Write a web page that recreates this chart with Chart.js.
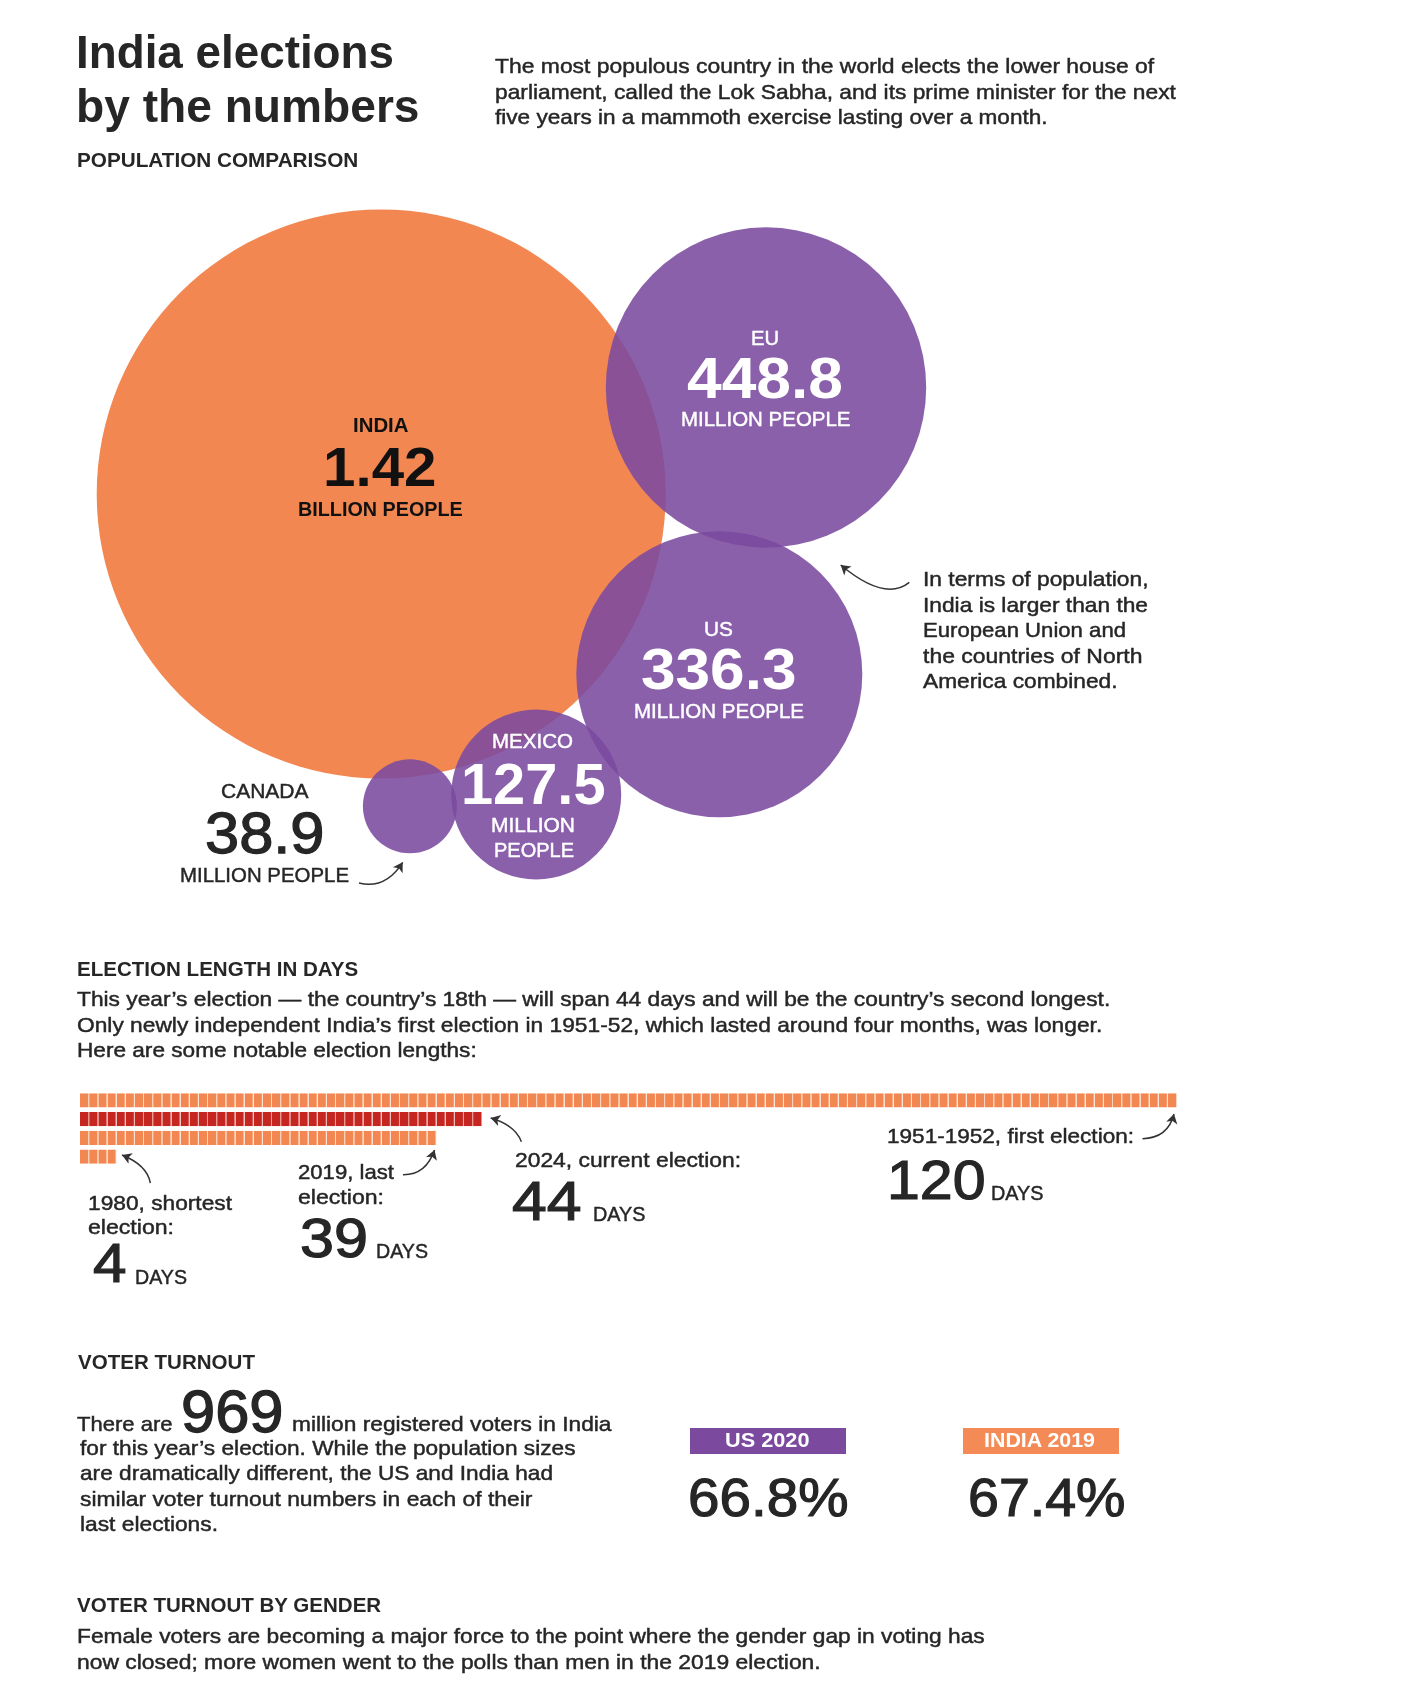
<!DOCTYPE html>
<html>
<head>
<meta charset="utf-8">
<title>India elections by the numbers</title>
<script src="https://cdn.jsdelivr.net/npm/chart.js"></script>
<style>
  html, body { margin: 0; background: #fff; }
  #page { position: relative; width: 1420px; height: 1708px; overflow: hidden; font-family: "Liberation Sans", sans-serif; }
  #page canvas { position: absolute; }
  #page svg { position: absolute; left: 0; top: 0; }
  .t { position: absolute; white-space: nowrap; transform-origin: left center; }
  .box { position: absolute; }
</style>
</head>
<body>
<div id="page">
  <canvas id="bubbleChart" width="1420" height="720" style="left:0;top:190px"></canvas>
  <canvas id="daysChart" width="1097" height="75" style="left:80px;top:1091px"></canvas>
  <div class="box" style="left:690.3px;top:1428px;width:155.7px;height:26.3px;background:#7b4a9f"></div>
  <div class="box" style="left:963.3px;top:1428px;width:155.7px;height:26.3px;background:#f48a55"></div>
  <svg id="arrows" width="1420" height="1708"></svg>
</div>
<script>
// Population comparison
const countries = ["INDIA", "EU", "US", "MEXICO", "CANADA"];
const populationMillions = [1420, 448.8, 336.3, 127.5, 38.9];
const populationLabels = ["1.42", "448.8", "336.3", "127.5", "38.9"];

// where the circles sit in the packed layout
const packX = [381.2, 766, 719.3, 536.2, 409.9];
const packY = [304, 197.5, 484.2, 604.5, 616.3];
const packR = [284.5, 160.2, 143, 85, 47];

// Election length
const electionLabels = ["1951-1952", "2024", "2019", "1980"];
const electionDays = [120, 44, 39, 4];

// Voter turnout
const registeredVoters = 969;
const turnoutLabels = ["US 2020", "INDIA 2019"];
const turnoutPercent = [66.8, 67.4];

const ORANGE = "#f28752";
const PURPLE = "rgba(123, 74, 159, 0.88)";
const RED = "#c62620";
const INK = "#262626";
const BLACK = "#111";
const WHITE = "#fff";

new Chart(document.getElementById("bubbleChart").getContext("2d"), {
  type: "bubble",
  data: {
    datasets: [
      {
        data: populationMillions.map((p, i) => ({
          x: packX[i],
          y: packY[i],
          r: packR[i],
          population: p,
        })),
        backgroundColor: countries.map((c) => (c === "INDIA" ? ORANGE : PURPLE)),
        borderWidth: 0,
        clip: false,
      },
    ],
  },
  options: {
    responsive: false,
    animation: false,
    layout: { padding: 0, autoPadding: false },
    plugins: { legend: { display: false }, tooltip: { enabled: false } },
    scales: {
      x: { display: false, min: 0, max: 1420 },
      y: { display: false, min: 0, max: 720, reverse: true },
    },
  },
});

// one stacked dataset per day, so every day is its own cell
const dayCells = [];
for (let d = 0; d < electionDays[0]; d++) {
  dayCells.push({
    data: electionDays.map((n) => (n > d ? 1 : null)),
    backgroundColor: electionLabels.map((l) => (l === "2024" ? RED : ORANGE)),
    borderColor: electionLabels.map((l) => (l === "2024" ? "#e79c97" : "#fcd6c1")),
    borderWidth: { right: 1 },
    borderSkipped: false,
    barPercentage: 1,
    categoryPercentage: 0.765,
  });
}
new Chart(document.getElementById("daysChart").getContext("2d"), {
  type: "bar",
  data: { labels: electionLabels, datasets: dayCells },
  options: {
    indexAxis: "y",
    responsive: false,
    animation: false,
    layout: { padding: 0 },
    plugins: { legend: { display: false }, tooltip: { enabled: false } },
    scales: {
      x: { display: false, stacked: true, min: 0, max: electionDays[0] },
      y: { display: false, stacked: true },
    },
  },
});

// text: string, left, baseline, right, size, weight, color
const texts = [
  ["India elections", 76, 67.7, 394, 46, 700, INK],
  ["by the numbers", 76, 121.7, 419.5, 46, 700, INK],
  ["The most populous country in the world elects the lower house of", 494.8, 72.8, 1154, 21, 400, INK],
  ["parliament, called the Lok Sabha, and its prime minister for the next", 494.8, 99.1, 1175.7, 21, 400, INK],
  ["five years in a mammoth exercise lasting over a month.", 494.8, 124.2, 1047.4, 21, 400, INK],
  ["POPULATION COMPARISON", 76.8, 167.3, 358, 20, 700, INK],

  [countries[0], 352.5, 432.2, 408, 20, 700, BLACK],
  [populationLabels[0], 323, 486, 436.5, 56, 700, BLACK],
  ["BILLION PEOPLE", 298.3, 515.7, 463, 20, 700, BLACK],
  [countries[1], 751, 345, 779, 20, 400, WHITE],
  [populationLabels[1], 687, 398, 843, 57, 700, WHITE],
  ["MILLION PEOPLE", 680.5, 426.4, 850, 20, 400, WHITE],
  [countries[2], 704, 635.7, 733, 20, 400, WHITE],
  [populationLabels[2], 640.5, 689, 796, 57, 700, WHITE],
  ["MILLION PEOPLE", 634, 717.5, 804, 20, 400, WHITE],
  [countries[3], 492, 748.3, 573, 20, 400, WHITE],
  [populationLabels[3], 460.5, 803.8, 605, 57, 700, WHITE],
  ["MILLION", 491, 832.3, 575, 20, 400, WHITE],
  ["PEOPLE", 493.5, 857.3, 573.5, 20, 400, WHITE],
  [countries[4], 221, 798.2, 308.5, 20, 400, INK],
  [populationLabels[4], 204.5, 853.3, 324, 57, 400, INK],
  ["MILLION PEOPLE", 180, 881.7, 349, 20, 400, INK],

  ["In terms of population,", 923, 585.6, 1148.5, 21, 400, INK],
  ["India is larger than the", 923, 611.5, 1148, 21, 400, INK],
  ["European Union and", 923, 637.2, 1126, 21, 400, INK],
  ["the countries of North", 923, 663, 1142.5, 21, 400, INK],
  ["America combined.", 923, 688, 1117.5, 21, 400, INK],

  ["ELECTION LENGTH IN DAYS", 76.8, 976, 358, 20, 700, INK],
  ["This year\u2019s election \u2014 the country\u2019s 18th \u2014 will span 44 days and will be the country\u2019s second longest.", 76.8, 1006.2, 1110, 21, 400, INK],
  ["Only newly independent India\u2019s first election in 1951-52, which lasted around four months, was longer.", 76.8, 1031.6, 1102, 21, 400, INK],
  ["Here are some notable election lengths:", 76.8, 1056.5, 476.5, 21, 400, INK],

  [electionLabels[3] + ", shortest", 87.5, 1210, 231.5, 21, 400, INK],
  ["election:", 87.5, 1234, 173.5, 21, 400, INK],
  [String(electionDays[3]), 92.5, 1283, 126, 55, 400, INK],
  ["DAYS", 135, 1283.5, 187, 20, 400, INK],
  [electionLabels[2] + ", last", 298, 1179, 394, 21, 400, INK],
  ["election:", 298, 1204, 384, 21, 400, INK],
  [String(electionDays[2]), 299.5, 1258, 367.5, 55, 400, INK],
  ["DAYS", 376, 1257.5, 428, 20, 400, INK],
  [electionLabels[1] + ", current election:", 514.5, 1167, 740.5, 21, 400, INK],
  [String(electionDays[1]), 511.5, 1221, 581, 55, 400, INK],
  ["DAYS", 592.6, 1220.5, 645, 20, 400, INK],
  [electionLabels[0] + ", first election:", 887, 1142.7, 1134, 21, 400, INK],
  [String(electionDays[0]), 887, 1200, 985.5, 55, 400, INK],
  ["DAYS", 990.5, 1200, 1043, 20, 400, INK],

  ["VOTER TURNOUT", 77.5, 1369, 254.5, 20, 700, INK],
  ["There are", 76.5, 1431, 172, 21, 400, INK],
  [String(registeredVoters), 180.5, 1433.3, 283, 59, 400, INK],
  ["million registered voters in India", 291.5, 1431, 611, 21, 400, INK],
  ["for this year\u2019s election. While the population sizes", 79.5, 1455, 575, 21, 400, INK],
  ["are dramatically different, the US and India had", 79.5, 1480.2, 552.5, 21, 400, INK],
  ["similar voter turnout numbers in each of their", 79.5, 1506, 532, 21, 400, INK],
  ["last elections.", 79.5, 1531, 217.5, 21, 400, INK],
  [turnoutLabels[0], 725, 1446.5, 809.5, 20, 700, WHITE],
  [turnoutLabels[1], 984, 1446.5, 1095, 20, 700, WHITE],
  [turnoutPercent[0] + "%", 687.5, 1516, 848, 54, 400, INK],
  [turnoutPercent[1] + "%", 967.5, 1516, 1125, 54, 400, INK],

  ["VOTER TURNOUT BY GENDER", 76.8, 1611.8, 381, 20, 700, INK],
  ["Female voters are becoming a major force to the point where the gender gap in voting has", 76.8, 1643, 984.5, 21, 400, INK],
  ["now closed; more women went to the polls than men in the 2019 election.", 76.8, 1668.3, 820.5, 21, 400, INK],
];

const page = document.getElementById("page");
texts.forEach(([str, left, base, right, size, weight, color]) => {
  const el = document.createElement("div");
  el.className = "t";
  el.textContent = str;
  el.style.cssText = `left:${left}px;top:${base - 0.8465 * size}px;font-size:${size}px;line-height:${size}px;font-weight:${weight};color:${color}`;
  // the original face is a medium weight, thicken the regular a little
  if (weight === 400) el.style.webkitTextStroke = `${size * 0.022}px ${color}`;
  page.appendChild(el);
  el.style.transform = `scaleX(${(right - left) / el.getBoundingClientRect().width})`;
});

// curved callout arrows: start, control, tip
const arrows = [
  [909.3, 582.3, 885, 602, 840.7, 565],
  [359, 883, 385.7, 889.4, 402.7, 862.3],
  [150.4, 1183, 147, 1165, 122, 1155],
  [403, 1174.7, 426, 1175, 434.5, 1150],
  [521.4, 1141.7, 515, 1125, 490.7, 1118],
  [1142.5, 1138.7, 1168, 1138, 1174, 1114],
];
let svg = "";
arrows.forEach(([x1, y1, cx, cy, x2, y2]) => {
  svg += `<path d="M${x1} ${y1}Q${cx} ${cy} ${x2} ${y2}" fill="none" stroke="#333" stroke-width="1.5"/>`;
  const a = Math.atan2(y2 - cy, x2 - cx);
  const p = (r, t) => `${x2 - r * Math.cos(a + t)} ${y2 - r * Math.sin(a + t)}`;
  svg += `<path d="M${x2} ${y2}L${p(11, 0.55)}L${p(7, 0)}L${p(11, -0.55)}Z" fill="#333"/>`;
});
document.getElementById("arrows").innerHTML = svg;
</script>
</body>
</html>
